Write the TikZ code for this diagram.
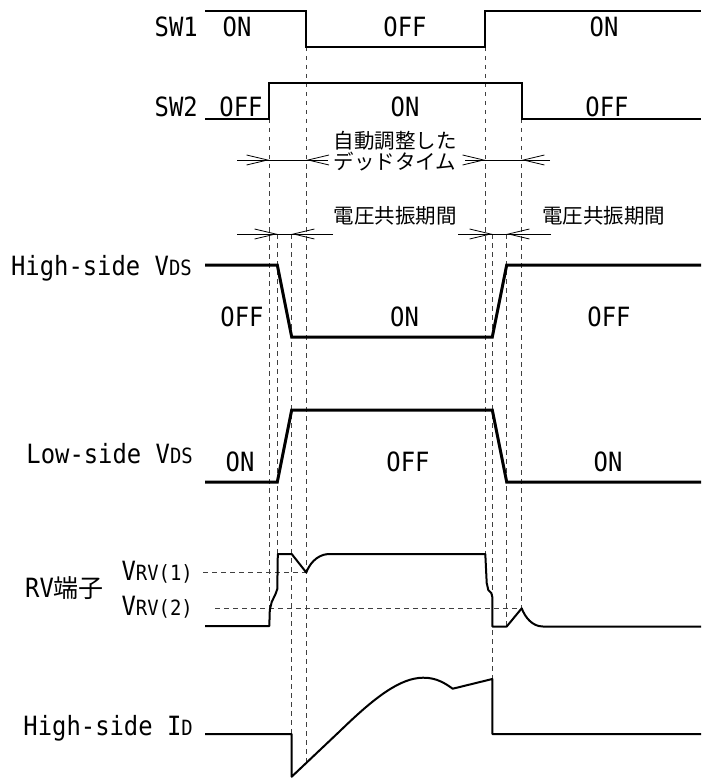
\documentclass[tikz,border=0pt]{standalone}
\usepackage{fontspec}
\usetikzlibrary{arrows.meta}
\newfontfamily\TDlatf[FakeStretch=0.9]{DejaVu Sans Mono}
\newfontfamily\TDjpf{Noto Sans CJK JP}
\newcommand{\TDlat}{\TDlatf\fontsize{26.5}{30}\selectfont}
\newcommand{\TDsub}[1]{{\fontsize{21}{24}\selectfont #1}}
\newcommand{\TDjp}{\TDjpf\fontsize{20.5}{24}\selectfont}
\newcommand{\TDjpbig}{\TDjpf\fontsize{25}{28}\selectfont}
\def\xTa{269.3}
\def\xTb{277.3}
\def\xTc{291.7}
\def\xTd{306.3}
\def\xTe{485.3}
\def\xTf{492.3}
\def\xTg{506.7}
\def\xTh{521.7}
\tikzset{
  swl/.style={line width=2pt, line join=miter},
  vds/.style={line width=3pt, line join=miter},
  sig/.style={line width=2pt, line join=round},
  guide/.style={black!75, line width=0.8pt, dash pattern=on 4.5pt off 4.5pt},
  dim/.style={line width=0.8pt},
  tip/.style={dim, -{Straight Barb[length=21pt,width=10pt,line width=0.8pt]}},
  txt/.style={inner sep=0pt, font=\TDlat},
  jtxt/.style={inner sep=0pt, font=\TDjp}
}
\begin{document}
\begin{tikzpicture}[x=1pt,y=-1pt]
\useasboundingbox (0,0) rectangle (701,778);
% guide lines
\draw[guide] (\xTa,119) -- (\xTa,626);
\draw[guide] (\xTb,234) -- (\xTb,554);
\draw[guide] (\xTc,234) -- (\xTc,734);
\draw[guide] (\xTd,47) -- (\xTd,763);
\draw[guide] (\xTe,47) -- (\xTe,554);
\draw[guide] (\xTf,234) -- (\xTf,679);
\draw[guide] (\xTg,234) -- (\xTg,626);
\draw[guide] (\xTh,119) -- (\xTh,608.3);
\draw[guide] (203,572.5) -- (\xTd,572.5);
\draw[guide] (215,608.3) -- (\xTh,608.3);
% SW1, SW2
\draw[swl] (205,11) -- (\xTd,11) -- (\xTd,47) -- (\xTe,47) -- (\xTe,11) -- (701,11);
\draw[swl] (205,119) -- (\xTa,119) -- (\xTa,83) -- (\xTh,83) -- (\xTh,119) -- (701,119);
\node[txt,anchor=base east] (sw1) at (198,37) {SW1};
\node[txt,anchor=base] (sw1a) at (237,37) {ON};
\node[txt,anchor=base] (sw1b) at (405,37) {OFF};
\node[txt,anchor=base] (sw1c) at (604,37) {ON};
\node[txt,anchor=base east] (sw2) at (198,117) {SW2};
\node[txt,anchor=base] (sw2a) at (241,117) {OFF};
\node[txt,anchor=base] (sw2b) at (405,117) {ON};
\node[txt,anchor=base] (sw2c) at (607,117) {OFF};
% dead time
\node[jtxt] (dt1) at (395,141) {自動調整した};
\node[jtxt] (dt2) at (395,162) {デッドタイム};
\draw[dim] (237,160) -- (328,160);
\draw[tip] (237,160) -- (\xTa,160);
\draw[tip] (328,160) -- (\xTd,160);
\draw[dim] (465,160) -- (550,160);
\draw[tip] (465,160) -- (\xTe,160);
\draw[tip] (550,160) -- (\xTh,160);
% resonance
\node[jtxt] (vr1) at (395,216) {電圧共振期間};
\node[jtxt] (vr2) at (603.5,216) {電圧共振期間};
\draw[dim] (237,234) -- (333,234);
\draw[tip] (237,234) -- (\xTb,234);
\draw[tip] (333,234) -- (\xTc,234);
\draw[dim] (458,234) -- (551,234);
\draw[tip] (458,234) -- (\xTf,234);
\draw[tip] (551,234) -- (\xTg,234);
% High-side VDS
\draw[vds] (205,265) -- (\xTb,265) -- (\xTc,337) -- (\xTf,337) -- (\xTg,265) -- (701,265);
\node[txt,anchor=base east] (hs) at (192,275) {High-side V\TDsub{DS}};
\node[txt,anchor=base] (hsa) at (242,326.5) {OFF};
\node[txt,anchor=base] (hsb) at (404.5,326.5) {ON};
\node[txt,anchor=base] (hsc) at (609,326.5) {OFF};
% Low-side VDS
\draw[vds] (205,482) -- (\xTb,482) -- (\xTc,410) -- (\xTf,410) -- (\xTg,482) -- (701,482);
\node[txt,anchor=base east] (ls) at (193,463) {Low-side V\TDsub{DS}};
\node[txt,anchor=base] (lsa) at (240,471) {ON};
\node[txt,anchor=base] (lsb) at (408,471) {OFF};
\node[txt,anchor=base] (lsc) at (608,471) {ON};
% RV
\draw[sig] (205,626) -- (\xTa,626) -- (269.8,610) -- (271.7,602) -- (275.5,594) -- (277.3,589) -- (277.8,554)
  -- (\xTc,554) -- (\xTd,572.5) .. controls (309,565) and (316,555) .. (328,554)
  -- (\xTe,554) -- (486.7,583) -- (488.3,590) -- (491.3,593) -- (\xTf,597) -- (\xTf,626.5)
  -- (\xTg,626.5) -- (\xTh,608.3) .. controls (525,617) and (532,626.5) .. (543,626.5) -- (701,626.5);
\node[txt,anchor=base west] (rv) at (25,597) {RV{\TDjpbig 端子}};
\node[txt,anchor=base east] (rv1) at (193,580) {V\TDsub{RV(1)}};
\node[txt,anchor=base east] (rv2) at (193,615) {V\TDsub{RV(2)}};
% High-side ID
\draw[sig] (205,734) -- (\xTc,734) -- (\xTc,776.7) -- (340,731) .. controls (375,697) and (400,678) .. (423,677.7)
  .. controls (437,677.5) and (446,684) .. (452.7,688.7) -- (\xTf,679) -- (\xTf,734) -- (701,734);
\node[txt,anchor=base east] (id) at (193,735) {High-side I\TDsub{D}};
\end{tikzpicture}
\end{document}
